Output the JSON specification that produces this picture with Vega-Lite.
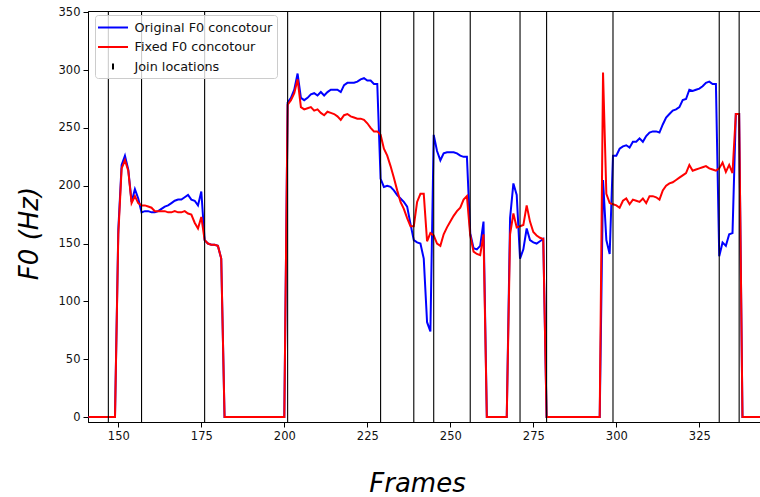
{
  "$schema": "https://vega.github.io/schema/vega-lite/v6.json",
  "width": 672,
  "height": 411,
  "autosize": {"type": "none"},
  "padding": {"left": 88, "top": 11, "right": 0, "bottom": 75},
  "background": "white",
  "config": {
    "font": "DejaVu Sans",
    "view": {"stroke": "black", "strokeWidth": 1},
    "axis": {
      "grid": false,
      "domainColor": "black",
      "domainWidth": 1,
      "tickColor": "black",
      "tickSize": 5,
      "tickWidth": 1,
      "labelFont": "DejaVu Sans",
      "labelFontSize": 11.5,
      "labelColor": "#111111",
      "labelPadding": 3,
      "titleFont": "DejaVu Sans",
      "titleFontSize": 26,
      "titleFontStyle": "italic",
      "titleFontWeight": "normal",
      "titleColor": "black"
    }
  },
  "datasets": {
    "original": [
      {"frame": 141, "f0": 0}, {"frame": 142, "f0": 0}, {"frame": 143, "f0": 0}, {"frame": 144, "f0": 0}, {"frame": 145, "f0": 0},
      {"frame": 146, "f0": 0}, {"frame": 147, "f0": 0}, {"frame": 148, "f0": 0}, {"frame": 149, "f0": 0}, {"frame": 150, "f0": 162},
      {"frame": 151, "f0": 218}, {"frame": 152, "f0": 226}, {"frame": 153, "f0": 214}, {"frame": 154, "f0": 186}, {"frame": 155, "f0": 197},
      {"frame": 156, "f0": 189}, {"frame": 157, "f0": 177}, {"frame": 158, "f0": 178}, {"frame": 159, "f0": 178}, {"frame": 160, "f0": 177},
      {"frame": 161, "f0": 177}, {"frame": 162, "f0": 178}, {"frame": 163, "f0": 180}, {"frame": 164, "f0": 182}, {"frame": 165, "f0": 183},
      {"frame": 166, "f0": 185}, {"frame": 167, "f0": 187}, {"frame": 168, "f0": 188}, {"frame": 169, "f0": 188}, {"frame": 170, "f0": 190},
      {"frame": 171, "f0": 192}, {"frame": 172, "f0": 188}, {"frame": 173, "f0": 187}, {"frame": 174, "f0": 183}, {"frame": 175, "f0": 195},
      {"frame": 176, "f0": 153}, {"frame": 177, "f0": 150}, {"frame": 178, "f0": 149}, {"frame": 179, "f0": 149}, {"frame": 180, "f0": 148},
      {"frame": 181, "f0": 137}, {"frame": 182, "f0": 0}, {"frame": 183, "f0": 0}, {"frame": 184, "f0": 0}, {"frame": 185, "f0": 0},
      {"frame": 186, "f0": 0}, {"frame": 187, "f0": 0}, {"frame": 188, "f0": 0}, {"frame": 189, "f0": 0}, {"frame": 190, "f0": 0},
      {"frame": 191, "f0": 0}, {"frame": 192, "f0": 0}, {"frame": 193, "f0": 0}, {"frame": 194, "f0": 0}, {"frame": 195, "f0": 0},
      {"frame": 196, "f0": 0}, {"frame": 197, "f0": 0}, {"frame": 198, "f0": 0}, {"frame": 199, "f0": 0}, {"frame": 200, "f0": 0},
      {"frame": 201, "f0": 272}, {"frame": 202, "f0": 276}, {"frame": 203, "f0": 283}, {"frame": 204, "f0": 297}, {"frame": 205, "f0": 276},
      {"frame": 206, "f0": 274}, {"frame": 207, "f0": 276}, {"frame": 208, "f0": 279}, {"frame": 209, "f0": 280}, {"frame": 210, "f0": 278},
      {"frame": 211, "f0": 281}, {"frame": 212, "f0": 278}, {"frame": 213, "f0": 281}, {"frame": 214, "f0": 283}, {"frame": 215, "f0": 283},
      {"frame": 216, "f0": 283}, {"frame": 217, "f0": 281}, {"frame": 218, "f0": 287}, {"frame": 219, "f0": 289}, {"frame": 220, "f0": 289},
      {"frame": 221, "f0": 289}, {"frame": 222, "f0": 290}, {"frame": 223, "f0": 292}, {"frame": 224, "f0": 293}, {"frame": 225, "f0": 291},
      {"frame": 226, "f0": 291}, {"frame": 227, "f0": 288}, {"frame": 228, "f0": 288}, {"frame": 229, "f0": 206}, {"frame": 230, "f0": 199},
      {"frame": 231, "f0": 200}, {"frame": 232, "f0": 199}, {"frame": 233, "f0": 196}, {"frame": 234, "f0": 192}, {"frame": 235, "f0": 189},
      {"frame": 236, "f0": 186}, {"frame": 237, "f0": 182}, {"frame": 238, "f0": 167}, {"frame": 239, "f0": 153}, {"frame": 240, "f0": 151},
      {"frame": 241, "f0": 150}, {"frame": 242, "f0": 137}, {"frame": 243, "f0": 82}, {"frame": 244, "f0": 74}, {"frame": 245, "f0": 244},
      {"frame": 246, "f0": 230}, {"frame": 247, "f0": 222}, {"frame": 248, "f0": 228}, {"frame": 249, "f0": 229}, {"frame": 250, "f0": 229},
      {"frame": 251, "f0": 229}, {"frame": 252, "f0": 228}, {"frame": 253, "f0": 226}, {"frame": 254, "f0": 225}, {"frame": 255, "f0": 225},
      {"frame": 256, "f0": 159}, {"frame": 257, "f0": 146}, {"frame": 258, "f0": 145}, {"frame": 259, "f0": 148}, {"frame": 260, "f0": 169},
      {"frame": 261, "f0": 0}, {"frame": 262, "f0": 0}, {"frame": 263, "f0": 0}, {"frame": 264, "f0": 0}, {"frame": 265, "f0": 0},
      {"frame": 266, "f0": 0}, {"frame": 267, "f0": 0}, {"frame": 268, "f0": 172}, {"frame": 269, "f0": 202}, {"frame": 270, "f0": 192},
      {"frame": 271, "f0": 137}, {"frame": 272, "f0": 145}, {"frame": 273, "f0": 163}, {"frame": 274, "f0": 153}, {"frame": 275, "f0": 151},
      {"frame": 276, "f0": 150}, {"frame": 277, "f0": 152}, {"frame": 278, "f0": 154}, {"frame": 279, "f0": 0}, {"frame": 280, "f0": 0},
      {"frame": 281, "f0": 0}, {"frame": 282, "f0": 0}, {"frame": 283, "f0": 0}, {"frame": 284, "f0": 0}, {"frame": 285, "f0": 0},
      {"frame": 286, "f0": 0}, {"frame": 287, "f0": 0}, {"frame": 288, "f0": 0}, {"frame": 289, "f0": 0}, {"frame": 290, "f0": 0},
      {"frame": 291, "f0": 0}, {"frame": 292, "f0": 0}, {"frame": 293, "f0": 0}, {"frame": 294, "f0": 0}, {"frame": 295, "f0": 0},
      {"frame": 296, "f0": 205}, {"frame": 297, "f0": 153}, {"frame": 298, "f0": 141}, {"frame": 299, "f0": 226}, {"frame": 300, "f0": 226},
      {"frame": 301, "f0": 232}, {"frame": 302, "f0": 234}, {"frame": 303, "f0": 235}, {"frame": 304, "f0": 233}, {"frame": 305, "f0": 238},
      {"frame": 306, "f0": 238}, {"frame": 307, "f0": 241}, {"frame": 308, "f0": 238}, {"frame": 309, "f0": 243}, {"frame": 310, "f0": 246},
      {"frame": 311, "f0": 247}, {"frame": 312, "f0": 247}, {"frame": 313, "f0": 246}, {"frame": 314, "f0": 253}, {"frame": 315, "f0": 259},
      {"frame": 316, "f0": 262}, {"frame": 317, "f0": 265}, {"frame": 318, "f0": 266}, {"frame": 319, "f0": 268}, {"frame": 320, "f0": 274},
      {"frame": 321, "f0": 275}, {"frame": 322, "f0": 283}, {"frame": 323, "f0": 282}, {"frame": 324, "f0": 283}, {"frame": 325, "f0": 284},
      {"frame": 326, "f0": 286}, {"frame": 327, "f0": 289}, {"frame": 328, "f0": 290}, {"frame": 329, "f0": 288}, {"frame": 330, "f0": 288},
      {"frame": 331, "f0": 139}, {"frame": 332, "f0": 151}, {"frame": 333, "f0": 148}, {"frame": 334, "f0": 158}, {"frame": 335, "f0": 159},
      {"frame": 336, "f0": 262}, {"frame": 337, "f0": 262}, {"frame": 338, "f0": 0}, {"frame": 339, "f0": 0}, {"frame": 340, "f0": 0},
      {"frame": 341, "f0": 0}, {"frame": 342, "f0": 0}, {"frame": 343, "f0": 0}, {"frame": 344, "f0": 0}
    ],
    "fixed": [
      {"frame": 141, "f0": 0}, {"frame": 142, "f0": 0}, {"frame": 143, "f0": 0}, {"frame": 144, "f0": 0}, {"frame": 145, "f0": 0},
      {"frame": 146, "f0": 0}, {"frame": 147, "f0": 0}, {"frame": 148, "f0": 0}, {"frame": 149, "f0": 0}, {"frame": 150, "f0": 158},
      {"frame": 151, "f0": 215}, {"frame": 152, "f0": 222}, {"frame": 153, "f0": 213}, {"frame": 154, "f0": 185}, {"frame": 155, "f0": 191},
      {"frame": 156, "f0": 185}, {"frame": 157, "f0": 183}, {"frame": 158, "f0": 183}, {"frame": 159, "f0": 182}, {"frame": 160, "f0": 181},
      {"frame": 161, "f0": 178}, {"frame": 162, "f0": 178}, {"frame": 163, "f0": 178}, {"frame": 164, "f0": 178}, {"frame": 165, "f0": 177},
      {"frame": 166, "f0": 177}, {"frame": 167, "f0": 178}, {"frame": 168, "f0": 177}, {"frame": 169, "f0": 177}, {"frame": 170, "f0": 178},
      {"frame": 171, "f0": 176}, {"frame": 172, "f0": 175}, {"frame": 173, "f0": 168}, {"frame": 174, "f0": 163}, {"frame": 175, "f0": 173},
      {"frame": 176, "f0": 153}, {"frame": 177, "f0": 150}, {"frame": 178, "f0": 149}, {"frame": 179, "f0": 149}, {"frame": 180, "f0": 148},
      {"frame": 181, "f0": 137}, {"frame": 182, "f0": 0}, {"frame": 183, "f0": 0}, {"frame": 184, "f0": 0}, {"frame": 185, "f0": 0},
      {"frame": 186, "f0": 0}, {"frame": 187, "f0": 0}, {"frame": 188, "f0": 0}, {"frame": 189, "f0": 0}, {"frame": 190, "f0": 0},
      {"frame": 191, "f0": 0}, {"frame": 192, "f0": 0}, {"frame": 193, "f0": 0}, {"frame": 194, "f0": 0}, {"frame": 195, "f0": 0},
      {"frame": 196, "f0": 0}, {"frame": 197, "f0": 0}, {"frame": 198, "f0": 0}, {"frame": 199, "f0": 0}, {"frame": 200, "f0": 0},
      {"frame": 201, "f0": 270}, {"frame": 202, "f0": 274}, {"frame": 203, "f0": 280}, {"frame": 204, "f0": 292}, {"frame": 205, "f0": 268},
      {"frame": 206, "f0": 266}, {"frame": 207, "f0": 267}, {"frame": 208, "f0": 268}, {"frame": 209, "f0": 265}, {"frame": 210, "f0": 266},
      {"frame": 211, "f0": 263}, {"frame": 212, "f0": 261}, {"frame": 213, "f0": 264}, {"frame": 214, "f0": 263}, {"frame": 215, "f0": 262},
      {"frame": 216, "f0": 260}, {"frame": 217, "f0": 257}, {"frame": 218, "f0": 261}, {"frame": 219, "f0": 262}, {"frame": 220, "f0": 260},
      {"frame": 221, "f0": 259}, {"frame": 222, "f0": 258}, {"frame": 223, "f0": 258}, {"frame": 224, "f0": 257}, {"frame": 225, "f0": 254},
      {"frame": 226, "f0": 250}, {"frame": 227, "f0": 247}, {"frame": 228, "f0": 247}, {"frame": 229, "f0": 244}, {"frame": 230, "f0": 232},
      {"frame": 231, "f0": 226}, {"frame": 232, "f0": 217}, {"frame": 233, "f0": 207}, {"frame": 234, "f0": 196}, {"frame": 235, "f0": 186},
      {"frame": 236, "f0": 180}, {"frame": 237, "f0": 172}, {"frame": 238, "f0": 165}, {"frame": 239, "f0": 165}, {"frame": 240, "f0": 186},
      {"frame": 241, "f0": 193}, {"frame": 242, "f0": 193}, {"frame": 243, "f0": 152}, {"frame": 244, "f0": 159}, {"frame": 245, "f0": 157},
      {"frame": 246, "f0": 150}, {"frame": 247, "f0": 148}, {"frame": 248, "f0": 158}, {"frame": 249, "f0": 164}, {"frame": 250, "f0": 169},
      {"frame": 251, "f0": 174}, {"frame": 252, "f0": 178}, {"frame": 253, "f0": 181}, {"frame": 254, "f0": 188}, {"frame": 255, "f0": 191},
      {"frame": 256, "f0": 157}, {"frame": 257, "f0": 143}, {"frame": 258, "f0": 141}, {"frame": 259, "f0": 140}, {"frame": 260, "f0": 158},
      {"frame": 261, "f0": 0}, {"frame": 262, "f0": 0}, {"frame": 263, "f0": 0}, {"frame": 264, "f0": 0}, {"frame": 265, "f0": 0},
      {"frame": 266, "f0": 0}, {"frame": 267, "f0": 0}, {"frame": 268, "f0": 158}, {"frame": 269, "f0": 176}, {"frame": 270, "f0": 164},
      {"frame": 271, "f0": 165}, {"frame": 272, "f0": 166}, {"frame": 273, "f0": 183}, {"frame": 274, "f0": 169}, {"frame": 275, "f0": 160},
      {"frame": 276, "f0": 157}, {"frame": 277, "f0": 155}, {"frame": 278, "f0": 154}, {"frame": 279, "f0": 0}, {"frame": 280, "f0": 0},
      {"frame": 281, "f0": 0}, {"frame": 282, "f0": 0}, {"frame": 283, "f0": 0}, {"frame": 284, "f0": 0}, {"frame": 285, "f0": 0},
      {"frame": 286, "f0": 0}, {"frame": 287, "f0": 0}, {"frame": 288, "f0": 0}, {"frame": 289, "f0": 0}, {"frame": 290, "f0": 0},
      {"frame": 291, "f0": 0}, {"frame": 292, "f0": 0}, {"frame": 293, "f0": 0}, {"frame": 294, "f0": 0}, {"frame": 295, "f0": 0},
      {"frame": 296, "f0": 298}, {"frame": 297, "f0": 193}, {"frame": 298, "f0": 185}, {"frame": 299, "f0": 184}, {"frame": 300, "f0": 183},
      {"frame": 301, "f0": 181}, {"frame": 302, "f0": 187}, {"frame": 303, "f0": 189}, {"frame": 304, "f0": 184}, {"frame": 305, "f0": 188},
      {"frame": 306, "f0": 187}, {"frame": 307, "f0": 186}, {"frame": 308, "f0": 189}, {"frame": 309, "f0": 185}, {"frame": 310, "f0": 191},
      {"frame": 311, "f0": 191}, {"frame": 312, "f0": 190}, {"frame": 313, "f0": 188}, {"frame": 314, "f0": 196}, {"frame": 315, "f0": 200},
      {"frame": 316, "f0": 202}, {"frame": 317, "f0": 203}, {"frame": 318, "f0": 205}, {"frame": 319, "f0": 207}, {"frame": 320, "f0": 209},
      {"frame": 321, "f0": 211}, {"frame": 322, "f0": 218}, {"frame": 323, "f0": 213}, {"frame": 324, "f0": 214}, {"frame": 325, "f0": 215},
      {"frame": 326, "f0": 216}, {"frame": 327, "f0": 217}, {"frame": 328, "f0": 215}, {"frame": 329, "f0": 214}, {"frame": 330, "f0": 213},
      {"frame": 331, "f0": 215}, {"frame": 332, "f0": 220}, {"frame": 333, "f0": 212}, {"frame": 334, "f0": 218}, {"frame": 335, "f0": 211},
      {"frame": 336, "f0": 262}, {"frame": 337, "f0": 262}, {"frame": 338, "f0": 0}, {"frame": 339, "f0": 0}, {"frame": 340, "f0": 0},
      {"frame": 341, "f0": 0}, {"frame": 342, "f0": 0}, {"frame": 343, "f0": 0}, {"frame": 344, "f0": 0}
    ],
    "joins": [
      {"frame": 147}, {"frame": 157}, {"frame": 176}, {"frame": 201}, {"frame": 229}, {"frame": 239}, {"frame": 245},
      {"frame": 256}, {"frame": 271}, {"frame": 279}, {"frame": 299}, {"frame": 331}, {"frame": 337}
    ]
  },
  "encoding": {
    "x": {
      "field": "frame",
      "type": "quantitative",
      "scale": {"domain": [140.87, 343.28], "nice": false, "zero": false},
      "axis": {
        "title": "Frames",
        "values": [150, 175, 200, 225, 250, 275, 300, 325],
        "titleX": 329,
        "titleY": 69,
        "titleAlign": "center",
        "titleBaseline": "alphabetic"
      }
    }
  },
  "layer": [
    {
      "data": {"name": "original"},
      "mark": {"type": "line", "strokeWidth": 2, "clip": true},
      "encoding": {
        "y": {
          "field": "f0",
          "type": "quantitative",
          "scale": {"domain": [-4.3, 351.1], "nice": false, "zero": false},
          "axis": {
            "title": "F0 (Hz)",
            "values": [0, 50, 100, 150, 200, 250, 300, 350],
            "titleAngle": -90,
            "titleX": -59,
            "titleY": 222,
            "titleAlign": "center",
            "titleBaseline": "middle"
          }
        },
        "color": {
          "datum": "Original F0 concotour",
          "scale": {
            "domain": ["Original F0 concotour", "Fixed F0 concotour", "Join locations"],
            "range": ["#0000ff", "#ff0000", "#000000"]
          },
          "legend": {
            "title": null,
            "orient": "none",
            "legendX": 7,
            "legendY": 4,
            "symbolType": "stroke",
            "symbolSize": 225,
            "symbolStrokeWidth": 2,
            "symbolOffset": 5.5,
            "labelFont": "DejaVu Sans",
            "labelFontSize": 12.8,
            "labelColor": "#111111",
            "labelOffset": 13,
            "rowPadding": 3.5,
            "padding": 4,
            "fillColor": "rgba(255,255,255,0.8)",
            "strokeColor": "#cccccc",
            "cornerRadius": 3,
            "encode": {
              "symbols": {
                "update": {
                  "shape": {"signal": "datum.value === 'Join locations' ? 'M0,-0.4V0.4' : 'M-2,0H2'"}
                }
              }
            }
          }
        }
      }
    },
    {
      "data": {"name": "fixed"},
      "mark": {"type": "line", "strokeWidth": 2, "clip": true},
      "encoding": {
        "y": {"field": "f0", "type": "quantitative"},
        "color": {"datum": "Fixed F0 concotour"}
      }
    },
    {
      "data": {"name": "joins"},
      "mark": {"type": "rule", "strokeWidth": 1.1, "clip": true},
      "encoding": {
        "color": {"datum": "Join locations"}
      }
    }
  ]
}
